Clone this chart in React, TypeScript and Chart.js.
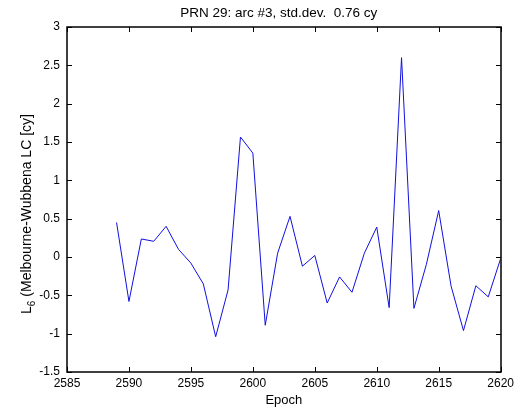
import React, { useEffect, useRef } from "react";
import { Chart, registerables } from "chart.js";

Chart.register(...registerables);

const epochs = [
  2589, 2590, 2591, 2592, 2593, 2594, 2595, 2596, 2597, 2598, 2599, 2600,
  2601, 2602, 2603, 2604, 2605, 2606, 2607, 2608, 2609, 2610, 2611, 2612,
  2613, 2614, 2615, 2616, 2617, 2618, 2619, 2620,
];
const residuals = [
  0.45, -0.58, 0.235, 0.205, 0.4, 0.1, -0.08, -0.35, -1.04, -0.43, 1.565, 1.355,
  -0.89, 0.05, 0.53, -0.12, 0.02, -0.6, -0.26, -0.46, 0.05, 0.39, -0.66, 2.6,
  -0.67, -0.1, 0.605, -0.38, -0.96, -0.375, -0.52, -0.02,
];
const xTicks = [2585, 2590, 2595, 2600, 2605, 2610, 2615, 2620];
const yTicks = [-1.5, -1, -0.5, 0, 0.5, 1, 1.5, 2, 2.5, 3];
const titleText = "PRN 29: arc #3, std.dev.  0.76 cy";
const xLabel = "Epoch";
const yLabelMain = "L";
const yLabelSub = "6";
const yLabelRest = " (Melbourne-Wubbena LC [cy]";

const FONT = "'Liberation Sans', Arial, sans-serif";

const framePlugin = {
  id: "matlabFrame",
  afterDraw(chart: any) {
    const ctx: CanvasRenderingContext2D = chart.ctx;
    const { left, right, top, bottom } = chart.chartArea;
    const xs = chart.scales.x;
    const ys = chart.scales.y;
    ctx.save();
    ctx.strokeStyle = "#000000";
    ctx.lineWidth = 1.5;
    ctx.setLineDash([]);
    const L = Math.round(left);
    const R = Math.round(right);
    const T = Math.round(top);
    const B = Math.round(bottom);
    ctx.beginPath();
    ctx.moveTo(L, T);
    ctx.lineTo(R, T);
    ctx.lineTo(R, B);
    ctx.lineTo(L, B);
    ctx.closePath();
    ctx.stroke();
    ctx.beginPath();
    ctx.lineWidth = 1;
    const tl = 5;
    xTicks.forEach((v) => {
      const px = Math.round(xs.getPixelForValue(v)) + 0.5;
      ctx.moveTo(px, B);
      ctx.lineTo(px, B - tl);
      ctx.moveTo(px, T);
      ctx.lineTo(px, T + tl);
    });
    yTicks.forEach((v) => {
      const py = Math.round(ys.getPixelForValue(v)) + 0.5;
      ctx.moveTo(L, py);
      ctx.lineTo(L + tl, py);
      ctx.moveTo(R, py);
      ctx.lineTo(R - tl, py);
    });
    ctx.stroke();

    ctx.fillStyle = "#000";
    const cx = (left + right) / 2;
    ctx.textAlign = "center";
    ctx.textBaseline = "middle";
    ctx.font = `13.5px ${FONT}`;
    ctx.fillText(titleText, cx - 5, 13);
    ctx.font = `13px ${FONT}`;
    ctx.fillText(xLabel, cx, 400);

    ctx.translate(27, 214);
    ctx.rotate(-Math.PI / 2);
    ctx.font = `14px ${FONT}`;
    const wMain = ctx.measureText(yLabelMain).width;
    const wRest = ctx.measureText(yLabelRest).width;
    ctx.font = `10px ${FONT}`;
    const wSub = ctx.measureText(yLabelSub).width;
    const total = wMain + wSub + wRest;
    let x0 = -total / 2;
    ctx.textAlign = "left";
    ctx.font = `14px ${FONT}`;
    ctx.fillText(yLabelMain, x0, 0);
    x0 += wMain;
    ctx.font = `10px ${FONT}`;
    ctx.fillText(yLabelSub, x0, 5);
    x0 += wSub;
    ctx.font = `14px ${FONT}`;
    ctx.fillText(yLabelRest, x0, 0);
    ctx.restore();
  },
};

const tickFont = { family: FONT, size: 12 };

export default function App() {
  const ref = useRef<HTMLCanvasElement | null>(null);
  useEffect(() => {
    if (!ref.current) return;
    const chart = new Chart(ref.current, {
      type: "line",
      data: {
        datasets: [
          {
            data: epochs.map((e, i) => ({ x: e, y: residuals[i] })),
            borderColor: "#1010e0",
            borderWidth: 1,
            pointRadius: 0,
            tension: 0,
            fill: false,
          },
        ],
      },
      options: {
        responsive: false,
        animation: false,
        events: [],
        layout: { padding: { top: 27, right: 17, left: 0, bottom: 0 } },
        plugins: {
          legend: { display: false },
          tooltip: { enabled: false },
          title: { display: false },
        },
        scales: {
          x: {
            type: "linear",
            min: 2585,
            max: 2620,
            afterBuildTicks: (s: any) => {
              s.ticks = xTicks.map((v) => ({ value: v }));
            },
            afterFit: (s: any) => {
              s.height = 38;
            },
            grid: { display: false, drawTicks: false },
            border: { display: false },
            ticks: {
              color: "#000",
              padding: 4,
              maxRotation: 0,
              autoSkip: false,
              font: tickFont,
              callback: (v: any) => String(v),
            },
          },
          y: {
            type: "linear",
            min: -1.5,
            max: 3,
            afterBuildTicks: (s: any) => {
              s.ticks = yTicks.map((v) => ({ value: v }));
            },
            afterFit: (s: any) => {
              s.width = 67;
            },
            grid: { display: false, drawTicks: false },
            border: { display: false },
            ticks: {
              color: "#000",
              padding: 7,
              autoSkip: false,
              font: tickFont,
              callback: (v: any) => String(v),
            },
          },
        },
      },
      plugins: [framePlugin],
    });
    return () => chart.destroy();
  }, []);
  return (
    <div style={{ position: "fixed", left: 0, top: 0, width: 518, height: 410, background: "#fff" }}>
      <canvas ref={ref} width={518} height={410} style={{ display: "block" }} />
    </div>
  );
}
